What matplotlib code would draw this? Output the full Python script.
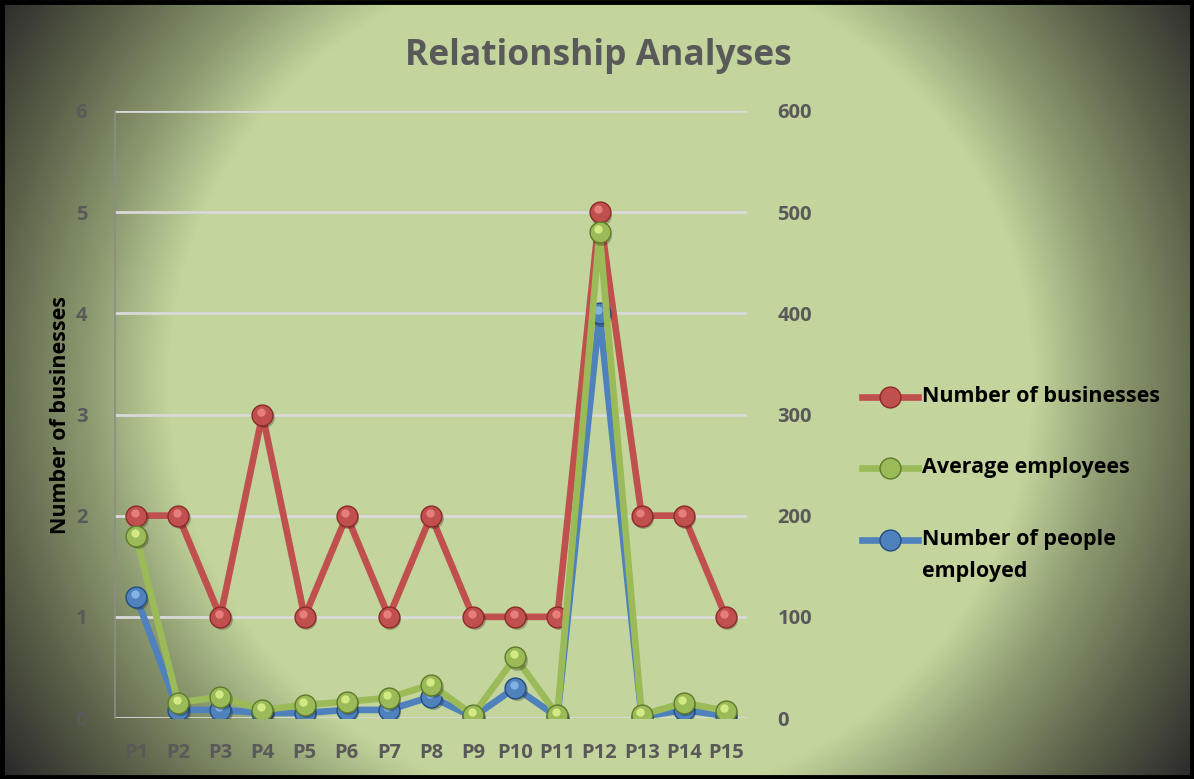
import numpy as np
import matplotlib
matplotlib.use("Agg")
import matplotlib.pyplot as plt
from matplotlib.lines import Line2D
from matplotlib.transforms import offset_copy

plt.rcParams["font.family"] = ["Open Sans", "DejaVu Sans"]

# ---- data ----
periods = [f"P{i}" for i in range(1, 16)]
businesses = [2, 2, 1, 3, 1, 2, 1, 2, 1, 1, 1, 5, 2, 2, 1]               # left axis
avg_employees = [180, 15, 21, 8, 13, 16, 20, 33, 3, 60, 3, 480, 3, 15, 7]   # right axis
people_employed = [120, 8, 8, 5, 5, 8, 8, 21, 1, 30, 1, 400, 1, 8, 2]       # right axis

W, H = 1194, 779
fig = plt.figure(figsize=(W / 100, H / 100), dpi=100)

# elliptical vignette background (light green centre, near-black corners)
bg = fig.add_axes([0, 0, 1, 1], zorder=-10)
yy, xx = np.mgrid[0:H, 0:W]
d = np.hypot((xx - 600) / 597.0, (yy - 380) / 585.0)
stops_d = [0, 0.72, 0.86, 1.02, 1.2]
stops_c = [(196, 214, 157), (196, 214, 157), (140, 154, 112), (92, 98, 73), (42, 42, 42)]
img = np.stack([np.interp(d, stops_d, [c[k] for c in stops_c]) for k in range(3)], -1) / 255
bg.imshow(img, extent=[0, 1, 0, 1], aspect="auto")
bg.set_axis_off()
fig.add_artist(plt.Rectangle((0.002, 0.003), 0.996, 0.994, transform=fig.transFigure,
                             fill=False, ec="black", lw=3.5))

ax = fig.add_axes([115 / W, 1 - 718 / H, (747 - 115) / W, (718 - 111) / H])
ax.patch.set_alpha(0)
ax2 = ax.twinx()
x = np.arange(1, 16)

RED, REDE, REDH = "#c0504d", "#8b2a28", "#f08a88"
GRN, GRNE, GRNH = "#9bbb59", "#5f7a2a", "#e0f590"
BLU, BLUE_E, BLUH = "#4f81bd", "#234d80", "#8fc0f0"


def series(a, vals, col, edge, hi, z):
    a.plot(x, vals, color=col, lw=4.8, solid_capstyle="round", zorder=z)
    sh = offset_copy(a.transData, fig, x=1.5, y=-2.5, units="dots")
    a.plot(x, vals, ls="none", marker="o", ms=15, mfc="#00000040", mec="none", transform=sh, zorder=z)
    a.plot(x, vals, ls="none", marker="o", ms=15, mfc=col, mec=edge, mew=1.0, zorder=z)
    hl = offset_copy(a.transData, fig, x=-1.5, y=3, units="dots")
    a.plot(x, vals, ls="none", marker="o", ms=6, mfc=hi, mec="none", alpha=0.8, transform=hl, zorder=z)


series(ax2, people_employed, BLU, BLUE_E, BLUH, 3)
series(ax2, avg_employees, GRN, GRNE, GRNH, 4)
series(ax2, [b * 100 for b in businesses], RED, REDE, REDH, 2)

ax.set_xlim(0.5, 15.5)
ax.set_ylim(0, 6)
ax2.set_ylim(0, 600)
ax.set_yticks(range(0, 7))
ax2.set_yticks(range(0, 601, 100))
ax.set_xticks(x)
ax.set_xticklabels(periods)
ax.grid(axis="y", color="#d9d9d9", lw=2)
ax.set_axisbelow(True)
for a in (ax, ax2):
    for s in a.spines.values():
        s.set_visible(False)
    a.tick_params(length=0, labelsize=14.5, labelcolor="#595959")
    for t in a.get_xticklabels() + a.get_yticklabels():
        t.set_fontweight("bold")
ax.spines["left"].set_visible(True)
ax.spines["left"].set_color("#8c8c8c")
ax.spines["left"].set_linewidth(1.2)
ax.tick_params(axis="y", pad=20)
ax2.tick_params(axis="y", pad=22)
ax.tick_params(axis="x", pad=18)
ax.set_ylabel("Number of businesses", fontsize=15.5, fontweight="bold", color="black", labelpad=3)

fig.text(598 / W, 1 - 56 / H, "Relationship Analyses", ha="center", va="center",
         fontsize=25.5, fontweight="bold", color="#595959")

# legend drawn by hand to keep Excel's top-aligned handle for the wrapped label
entries = [("Number of businesses", RED, REDE, 397), ("Average employees", GRN, GRNE, 468),
           ("Number of people", BLU, BLUE_E, 540)]
for label, col, edge, yp in entries:
    yf = 1 - yp / H
    fig.add_artist(Line2D([862 / W, 918 / W], [yf, yf], color=col, lw=4.8, transform=fig.transFigure))
    fig.add_artist(Line2D([890 / W], [yf], ls="none", marker="o", ms=15, mfc=col, mec=edge,
                          transform=fig.transFigure))
    fig.text(922 / W, yf, label, ha="left", va="center",
             fontsize=15.5, fontweight="bold", color="black")
# wrapped second line of the last legend label
fig.text(922 / W, 1 - 572 / H, "employed", ha="left", va="center",
         fontsize=15.5, fontweight="bold", color="black")

fig.savefig("out.png", dpi=100)
